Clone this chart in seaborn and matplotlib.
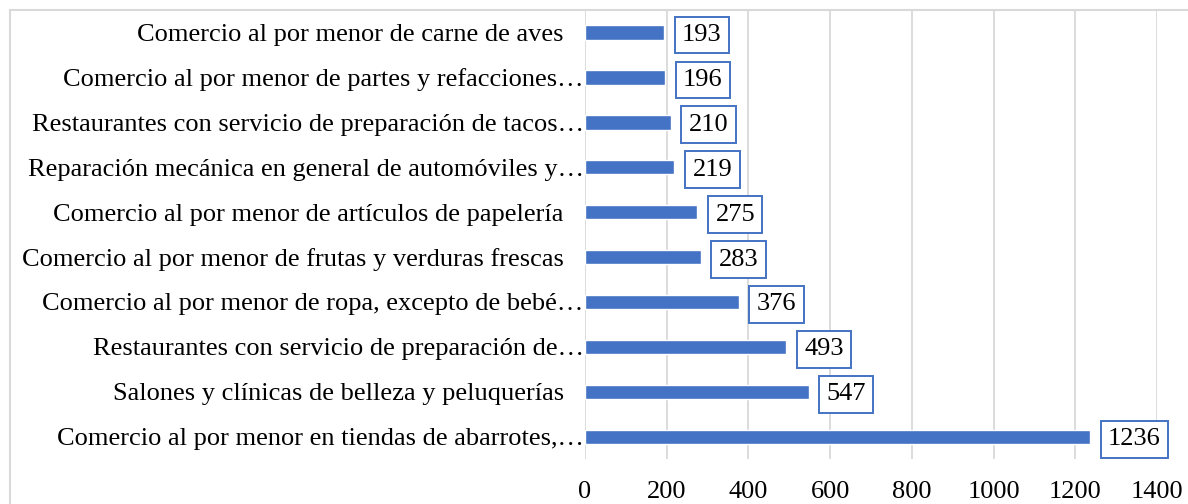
import matplotlib
matplotlib.use('Agg')
import matplotlib.pyplot as plt
import seaborn as sns
import pandas as pd
from matplotlib.patches import Rectangle

# Categories (top to bottom) and values
categorias = [
    "Comercio al por menor de carne de aves   ",
    "Comercio al por menor de partes y refacciones…",
    "Restaurantes con servicio de preparación de tacos…",
    "Reparación mecánica en general de automóviles y…",
    "Comercio al por menor de artículos de papelería   ",
    "Comercio al por menor de frutas y verduras frescas   ",
    "Comercio al por menor de ropa, excepto de bebé…",
    "Restaurantes con servicio de preparación de…",
    "Salones y clínicas de belleza y peluquerías   ",
    "Comercio al por menor en tiendas de abarrotes,…",
]
valores = [193, 196, 210, 219, 275, 283, 376, 493, 547, 1236]
ticks_x = [0, 200, 400, 600, 800, 1000, 1200, 1400]

df = pd.DataFrame({"categoria": categorias, "valor": valores})

sns.set_style("white")
plt.rcParams['font.family'] = ['Liberation Serif', 'DejaVu Serif']
plt.rcParams['text.color'] = 'black'
plt.rcParams['xtick.color'] = 'black'
plt.rcParams['ytick.color'] = 'black'

fs = 19

fig = plt.figure(figsize=(11.88, 5.04), dpi=100)
ax = fig.add_axes([0.4924, 0.089, 0.4816, 0.891])

sns.barplot(data=df, y="categoria", x="valor", color="#4472C4",
            width=0.32, saturation=1, ax=ax, zorder=3)

for i, v in enumerate(valores):
    ax.annotate(str(v), xy=(v, i), xytext=(13, 0), textcoords="offset points",
                ha="left", va="center_baseline", fontsize=fs, color="black",
                bbox=dict(boxstyle="square,pad=0.28", fc="white", ec="#4472C4", lw=1.4),
                zorder=4)

ax.set_xlim(0, 1400)
ax.set_ylim(9.5, -0.5)
ax.set_xticks(ticks_x)
ax.set_xticklabels([str(t) for t in ticks_x], fontsize=fs)
ax.tick_params(axis='x', length=0, pad=16)
ax.tick_params(axis='y', length=0, pad=1, labelsize=fs)
ax.set_xlabel("")
ax.set_ylabel("")
ax.grid(axis='x', color="#d9d9d9", linewidth=1.3, zorder=0)
ax.set_axisbelow(True)
for s in ax.spines.values():
    s.set_visible(False)

# outer chart frame
fig.patches.append(Rectangle((10 / 1188, -0.1), 1.2, 1 - 10 / 504 + 0.1,
                             transform=fig.transFigure, fill=False,
                             ec="#d9d9d9", lw=1.5))

fig.savefig("out.png", dpi=100)
plt.close()
